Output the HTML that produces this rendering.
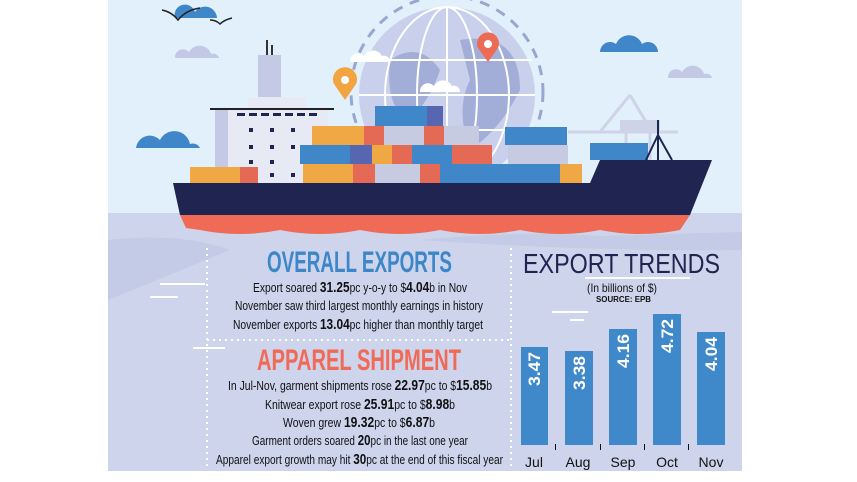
<!DOCTYPE html>
<html><head><meta charset="utf-8"><style>
html,body{margin:0;padding:0;background:#fff;}
svg{display:block}
text{font-family:"Liberation Sans Narrow","Liberation Sans",sans-serif;}
</style></head><body>
<svg width="857" height="482" viewBox="0 0 857 482" xmlns="http://www.w3.org/2000/svg">
<rect x="0" y="0" width="857" height="482" fill="#fff"/>
<rect x="108" y="0" width="634" height="214" fill="#e1f0fa"/>
<rect x="108" y="213" width="634" height="258" fill="#cdd4ec"/>
<path d="M108 240 Q180 232 230 250 L108 300Z" fill="#c3cbe6"/>
<path d="M420 240 Q520 230 600 236 L742 232 L742 250 Q600 252 420 240Z" fill="#c3cbe6"/>
<circle cx="447" cy="92" r="96" fill="none" stroke="#9aa6cf" stroke-width="3" stroke-dasharray="10 8"/>
<circle cx="447" cy="95" r="88" fill="#c9d0ec"/>
<path d="M390 60 Q420 40 440 70 Q430 100 410 120 Q385 110 390 60Z M460 40 Q520 30 520 90 Q500 130 470 150 Q455 110 470 80Z" fill="#a3aed8"/>
<g stroke="#fff" stroke-width="2" fill="none">
<ellipse cx="447" cy="95" rx="30" ry="88"/><ellipse cx="447" cy="95" rx="62" ry="88"/>
<line x1="447" y1="7" x2="447" y2="183"/>
<line x1="362" y1="60" x2="532" y2="60"/><line x1="359" y1="95" x2="535" y2="95"/><line x1="362" y1="130" x2="532" y2="130"/>
</g>
<path d="M345 100 L334 84 A12 12 0 1 1 356 84Z" fill="#f2a440"/><circle cx="345" cy="80" r="4" fill="#fff"/>
<path d="M488 62 L478 48 A11 11 0 1 1 498 48Z" fill="#ec6b55"/><circle cx="488" cy="44" r="4" fill="#fff"/>
<g fill="#3f87c8">
<path d="M175 18 a10 10 0 0 1 20 -6 a12 12 0 0 1 22 6Z"/>
<path d="M136 148 a14 14 0 0 1 24 -8 a16 16 0 0 1 30 4 a8 8 0 0 1 10 4Z"/>
<path d="M600 52 a10 10 0 0 1 16 -8 a14 14 0 0 1 26 0 a10 10 0 0 1 16 8Z"/>
</g>
<g fill="#c3c8e4">
<path d="M175 58 a8 8 0 0 1 14 -6 a12 12 0 0 1 22 2 a6 6 0 0 1 8 4Z"/>
<path d="M668 78 a8 8 0 0 1 14 -6 a12 12 0 0 1 22 2 a6 6 0 0 1 8 4Z"/>
</g>
<g fill="#fff"><path d="M350 62 a8 8 0 0 1 14 -6 a10 10 0 0 1 18 0 a6 6 0 0 1 8 6Z"/><path d="M420 92 a8 8 0 0 1 14 -6 a10 10 0 0 1 18 0 a6 6 0 0 1 8 6Z"/></g>
<path d="M162 10 Q172 12 178 20 Q186 10 200 8" stroke="#222" stroke-width="1.5" fill="none"/>
<path d="M210 20 Q216 20 220 24 Q224 20 232 18" stroke="#222" stroke-width="1.5" fill="none"/>
<g stroke="#cfd3e8" stroke-width="3" fill="none"><line x1="568" y1="132" x2="678" y2="132"/><line x1="630" y1="95" x2="600" y2="132"/><line x1="630" y1="95" x2="652" y2="132"/><line x1="626" y1="132" x2="626" y2="175"/><line x1="650" y1="132" x2="650" y2="175"/></g>
<rect x="620" y="120" width="40" height="12" fill="#cfd3e8"/>
<rect x="266" y="40" width="2" height="15" fill="#333"/><rect x="271" y="45" width="2" height="10" fill="#333"/>
<rect x="258" y="55" width="23" height="45" fill="#c4c9e6"/>
<rect x="248" y="97" width="58" height="12" fill="#e7e9f5"/>
<rect x="215" y="110" width="20" height="73" fill="#c4c9e6"/>
<rect x="228" y="110" width="100" height="73" fill="#e7e9f5"/>
<rect x="210" y="108" width="124" height="2" fill="#222"/>
<g fill="#1f2450"><rect x="237" y="113" width="8" height="3"/><rect x="249" y="113" width="8" height="3"/><rect x="261" y="113" width="8" height="3"/><rect x="273" y="113" width="8" height="3"/><rect x="285" y="113" width="8" height="3"/><rect x="297" y="113" width="8" height="3"/><rect x="309" y="113" width="8" height="3"/>
<rect x="249" y="128" width="4" height="4"/><rect x="270" y="128" width="4" height="4"/><rect x="291" y="128" width="4" height="4"/><rect x="249" y="145" width="4" height="4"/><rect x="270" y="145" width="4" height="4"/><rect x="291" y="145" width="4" height="4"/><rect x="249" y="160" width="4" height="4"/><rect x="270" y="160" width="4" height="4"/><rect x="270" y="173" width="4" height="4"/><rect x="291" y="173" width="4" height="4"/></g>
<g>
<rect x="190" y="167" width="50" height="16" fill="#f0a845"/><rect x="240" y="167" width="18" height="16" fill="#e46a55"/>
<rect x="303" y="164" width="50" height="19" fill="#f0a845"/><rect x="353" y="164" width="22" height="19" fill="#e46a55"/><rect x="375" y="164" width="45" height="19" fill="#c7cbe2"/><rect x="420" y="164" width="20" height="19" fill="#e46a55"/><rect x="440" y="164" width="40" height="19" fill="#3f87c8"/><rect x="480" y="164" width="80" height="19" fill="#3f87c8"/><rect x="560" y="164" width="22" height="19" fill="#f0a845"/>
<rect x="300" y="145" width="50" height="19" fill="#3f87c8"/><rect x="350" y="145" width="22" height="19" fill="#5666b0"/><rect x="372" y="145" width="20" height="19" fill="#f0a845"/><rect x="392" y="145" width="20" height="19" fill="#e46a55"/><rect x="412" y="145" width="40" height="19" fill="#3f87c8"/><rect x="452" y="145" width="40" height="19" fill="#e46a55"/><rect x="508" y="145" width="60" height="19" fill="#c7cbe2"/>
<rect x="312" y="126" width="52" height="19" fill="#f0a845"/><rect x="364" y="126" width="20" height="19" fill="#e46a55"/><rect x="384" y="126" width="40" height="19" fill="#c7cbe2"/><rect x="424" y="126" width="20" height="19" fill="#e46a55"/><rect x="444" y="126" width="35" height="19" fill="#c7cbe2"/><rect x="505" y="127" width="62" height="18" fill="#3f87c8"/>
<rect x="375" y="106" width="52" height="20" fill="#3f87c8"/><rect x="427" y="106" width="16" height="20" fill="#5666b0"/>
<rect x="590" y="143" width="58" height="17" fill="#3f87c8"/>
</g>
<path d="M658 120 L658 160 M646 160 L658 135 L672 160" stroke="#1f2450" stroke-width="2" fill="none"/>
<path d="M173 183 L590 183 L600 160 L712 160 L690 215 L180 215Z" fill="#1f2450"/>
<path d="M180 215 L690 215 L680 230 Q640 238 600 230 Q560 238 520 230 Q480 238 440 230 Q400 238 360 230 Q320 238 280 230 Q240 238 200 230 L186 228Z" fill="#ef6b55"/>
<g stroke="#fff" stroke-width="2" stroke-dasharray="2 4">
<line x1="207" y1="248" x2="207" y2="470"/><line x1="511" y1="248" x2="511" y2="470"/><line x1="207" y1="340" x2="511" y2="340"/>
</g>
<g stroke="#fff" stroke-width="2"><line x1="160" y1="284" x2="205" y2="284"/><line x1="150" y1="297" x2="178" y2="297"/><line x1="193" y1="348" x2="225" y2="348"/><line x1="552" y1="312" x2="588" y2="312"/><line x1="570" y1="320" x2="584" y2="320"/><line x1="585" y1="278" x2="690" y2="278"/></g>
<text x="267" y="272" textLength="185" lengthAdjust="spacingAndGlyphs" font-size="30" font-weight="bold" fill="#3d87c8">OVERALL EXPORTS</text>
<g font-size="13" fill="#111">
<text x="253" y="292" textLength="214" lengthAdjust="spacingAndGlyphs">Export soared <tspan font-weight="bold" font-size="15">31.25</tspan>pc y-o-y to $<tspan font-weight="bold" font-size="15">4.04</tspan>b in Nov</text>
<text x="235" y="310" textLength="248" lengthAdjust="spacingAndGlyphs">November saw third largest monthly earnings in history</text>
<text x="233" y="329" textLength="250" lengthAdjust="spacingAndGlyphs">November exports <tspan font-weight="bold" font-size="15">13.04</tspan>pc higher than monthly target</text>
</g>
<text x="257" y="370" textLength="204" lengthAdjust="spacingAndGlyphs" font-size="30" font-weight="bold" fill="#f06a55">APPAREL SHIPMENT</text>
<g font-size="13" fill="#111">
<text x="228" y="390" textLength="264" lengthAdjust="spacingAndGlyphs">In Jul-Nov, garment shipments rose <tspan font-weight="bold" font-size="15">22.97</tspan>pc to $<tspan font-weight="bold" font-size="15">15.85</tspan>b</text>
<text x="265" y="409" textLength="190" lengthAdjust="spacingAndGlyphs">Knitwear export rose <tspan font-weight="bold" font-size="15">25.91</tspan>pc to $<tspan font-weight="bold" font-size="15">8.98</tspan>b</text>
<text x="283" y="427" textLength="152" lengthAdjust="spacingAndGlyphs">Woven grew <tspan font-weight="bold" font-size="15">19.32</tspan>pc to $<tspan font-weight="bold" font-size="15">6.87</tspan>b</text>
<text x="252" y="445" textLength="216" lengthAdjust="spacingAndGlyphs">Garment orders soared <tspan font-weight="bold" font-size="15">20</tspan>pc in the last one year</text>
<text x="216" y="464" textLength="287" lengthAdjust="spacingAndGlyphs">Apparel export growth may hit <tspan font-weight="bold" font-size="15">30</tspan>pc at the end of this fiscal year</text>
</g>
<text x="523" y="273" textLength="197" lengthAdjust="spacingAndGlyphs" font-size="28" fill="#1f2450">EXPORT TRENDS</text>
<text x="587" y="292" textLength="70" lengthAdjust="spacingAndGlyphs" font-size="12" fill="#111">(In billions of $)</text>
<text x="596" y="302" textLength="55" lengthAdjust="spacingAndGlyphs" font-size="8" font-weight="bold" fill="#111">SOURCE: EPB</text>
<g fill="#3f88c9">
<rect x="521" y="347" width="27" height="98"/><rect x="565" y="351" width="28" height="94"/><rect x="609" y="329" width="28" height="116"/><rect x="653" y="314" width="28" height="131"/><rect x="697" y="332" width="28" height="113"/>
</g>
<g fill="#111"><rect x="555" y="444" width="1" height="6"/><rect x="600" y="444" width="1" height="6"/><rect x="644" y="444" width="1" height="6"/><rect x="688" y="444" width="1" height="6"/></g>
<g font-size="17" font-weight="bold" fill="#fff">
<text transform="translate(540,386) rotate(-90)" textLength="34" lengthAdjust="spacingAndGlyphs">3.47</text>
<text transform="translate(585,390) rotate(-90)" textLength="34" lengthAdjust="spacingAndGlyphs">3.38</text>
<text transform="translate(629,368) rotate(-90)" textLength="34" lengthAdjust="spacingAndGlyphs">4.16</text>
<text transform="translate(673,353) rotate(-90)" textLength="34" lengthAdjust="spacingAndGlyphs">4.72</text>
<text transform="translate(717,371) rotate(-90)" textLength="34" lengthAdjust="spacingAndGlyphs">4.04</text>
</g>
<g font-size="14" fill="#111" text-anchor="middle">
<text x="534" y="467">Jul</text><text x="578" y="467">Aug</text><text x="623" y="467">Sep</text><text x="667" y="467">Oct</text><text x="711" y="467">Nov</text>
</g>
</svg>
</body></html>
